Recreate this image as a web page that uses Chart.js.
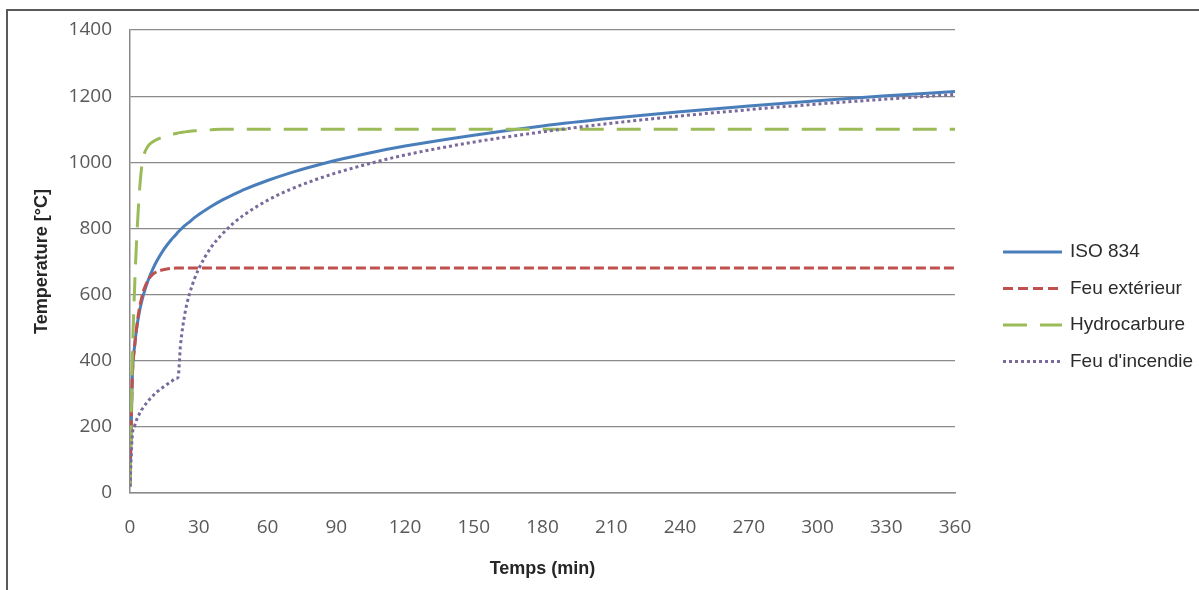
<!DOCTYPE html>
<html>
<head>
<meta charset="utf-8">
<script src="https://cdn.jsdelivr.net/npm/chart.js@4/dist/chart.umd.min.js"></script>
<style>
  body { margin: 0; background: #fff; }
  #wrap { position: relative; width: 1199px; height: 590px; overflow: hidden; }
  #frame { position: absolute; left: 6px; top: 9px; width: 1300px; height: 700px;
           border-left: 2px solid #5a5a5a; border-top: 2px solid #5a5a5a; }
  #chart { position: absolute; left: 0; top: 0; }
</style>
</head>
<body>
<div id="wrap">
  <div id="frame"></div>
  <canvas id="chart" width="1199" height="590"></canvas>
</div>
<script>
// time in minutes, shared by all curves
const times = [0, 1, 2, 3, 4, 5, 6, 8, 10, 12, 15, 18, 20, 21, 22, 24, 26, 28, 30, 35, 40, 45, 50,
  60, 70, 80, 90, 105, 120, 150, 180, 210, 240, 270, 300, 330, 360];

const iso834 = [20, 349, 444, 502, 544, 576, 603, 645, 678, 705, 739, 766, 781, 789, 796, 809, 820, 832, 842, 865, 885, 902, 918,
  945, 968, 988, 1006, 1029, 1049, 1082, 1110, 1133, 1153, 1170, 1186, 1201, 1214];

const feuExterieur = [20, 346, 441, 506, 554, 588, 614, 645, 662, 670, 676, 679, 680, 680, 680, 680, 680, 680, 680, 680, 680, 680, 680,
  680, 680, 680, 680, 680, 680, 680, 680, 680, 680, 680, 680, 680, 680];

const hydrocarbure = [20, 400, 620, 780, 900, 980, 1020, 1050, 1062, 1070, 1078, 1084, 1087, 1089, 1090, 1092, 1094, 1095, 1096, 1098, 1100, 1100, 1100,
  1100, 1100, 1100, 1100, 1100, 1100, 1100, 1100, 1100, 1100, 1100, 1100, 1100, 1100];

const feuIncendie = [20, 174, 203, 223, 238, 250, 261, 279, 294, 307, 323, 337, 346, 350, 444, 544, 603, 645, 678, 739, 781, 815, 842,
  885, 918, 945, 968, 997, 1022, 1061, 1092, 1118, 1140, 1159, 1176, 1191, 1205];

const seriesNames = ['ISO 834', 'Feu extérieur', 'Hydrocarbure', "Feu d'incendie"];
const xTicks = [0, 30, 60, 90, 120, 150, 180, 210, 240, 270, 300, 330, 360];
const yTicks = [0, 200, 400, 600, 800, 1000, 1200, 1400];

const toPoints = vals => times.map((t, i) => ({ x: t, y: vals[i] }));

// legend drawn at the right like the Excel one
const sideLegend = {
  id: 'sideLegend',
  afterDraw(chart) {
    const ctx = chart.ctx;
    ctx.save();
    chart.data.datasets.forEach((ds, i) => {
      const y = 252 + i * 36.5;
      ctx.beginPath();
      ctx.setLineDash(ds.legendDash || ds.borderDash || []);
      ctx.strokeStyle = ds.borderColor;
      ctx.lineWidth = ds.borderWidth;
      ctx.moveTo(1003, y);
      ctx.lineTo(1062, y);
      ctx.stroke();
      ctx.setLineDash([]);
      ctx.fillStyle = '#2b2b2b';
      ctx.font = '19px "Liberation Sans", Arial, sans-serif';
      ctx.textBaseline = 'middle';
      ctx.fillText(ds.label, 1070, y);
    });
    ctx.restore();
  }
};

const ctx = document.getElementById('chart').getContext('2d');
const chart = new Chart(ctx, {
  type: 'line',
  data: {
    datasets: [
      { label: seriesNames[0], data: toPoints(iso834), borderColor: '#4a7ebb', borderWidth: 3, order: 4 },
      { label: seriesNames[1], data: toPoints(feuExterieur), borderColor: '#c0504d', borderWidth: 3,
        borderDash: [10, 4], legendDash: [10, 5], order: 3 },
      { label: seriesNames[2], data: toPoints(hydrocarbure), borderColor: '#9bbb59', borderWidth: 3,
        borderDash: [24, 13], order: 2 },
      { label: seriesNames[3], data: toPoints(feuIncendie), borderColor: '#7a6a9c', borderWidth: 3,
        borderDash: [3, 3], order: 1 }
    ]
  },
  options: {
    responsive: false,
    animation: false,
    devicePixelRatio: 1,
    layout: { padding: { left: 0, top: 30, right: 244, bottom: 0 } },
    elements: {
      point: { radius: 0 },
      line: { cubicInterpolationMode: 'monotone', fill: false, borderCapStyle: 'butt' }
    },
    plugins: {
      legend: { display: false },
      tooltip: { enabled: false }
    },
    scales: {
      x: {
        type: 'linear',
        min: 0,
        max: 360,
        afterFit: s => { s.height = 97; },
        afterBuildTicks: s => { s.ticks = xTicks.map(v => ({ value: v })); },
        grid: { display: false, drawTicks: false },
        border: { display: true, color: '#8a8a8a', width: 1.5 },
        ticks: {
          padding: 23,
          maxRotation: 0,
          color: '#595959',
          callback: v => String(v),
          font: { family: '"Open Sans", sans-serif', size: 19 }
        },
        title: {
          display: true,
          text: 'Temps (min)',
          color: '#262626',
          padding: { top: 0, bottom: 10 },
          font: { family: '"Liberation Sans", Arial, sans-serif', size: 18, weight: 'bold' }
        }
      },
      y: {
        min: 0,
        max: 1400,
        afterFit: s => { s.width = 130; },
        afterBuildTicks: s => { s.ticks = yTicks.map(v => ({ value: v })); },
        grid: { color: '#8a8a8a', lineWidth: 1.2, drawTicks: false },
        border: { display: true, color: '#8a8a8a', width: 1.5 },
        ticks: {
          padding: 18,
          color: '#595959',
          callback: v => String(v),
          font: { family: '"Open Sans", sans-serif', size: 19 }
        },
        title: {
          display: true,
          text: 'Temperature [°C]',
          color: '#262626',
          padding: { top: 31, bottom: 0 },
          font: { family: '"Liberation Sans", Arial, sans-serif', size: 18, weight: 'bold' }
        }
      }
    }
  },
  plugins: [sideLegend]
});
</script>
</body>
</html>
